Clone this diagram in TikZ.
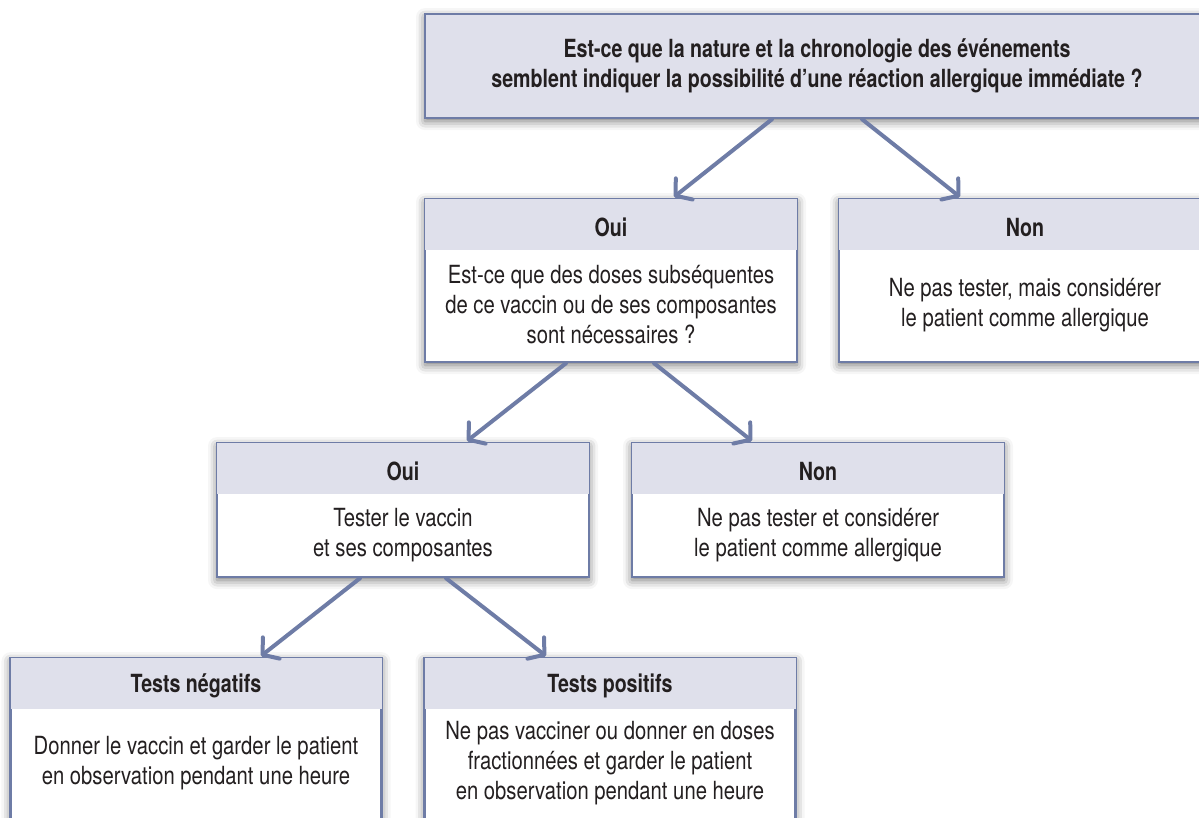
\documentclass[tikz,border=0pt]{standalone}
\usepackage{fontspec}
\setmainfont{TeX Gyre Heros}[FakeStretch=0.81,BoldFeatures={FakeStretch=0.785}]
\usetikzlibrary{arrows.meta,shadows.blur}
\definecolor{bordc}{HTML}{6E7CA6}
\definecolor{headc}{HTML}{DFE0EB}
\definecolor{txtc}{HTML}{231F20}
\tikzset{
  x=1pt,y=1pt,
  box/.style={draw=bordc,line width=2.2pt,fill=white,minimum width=#1,minimum height=163pt,inner sep=0pt,anchor=north,
    blur shadow={shadow xshift=0pt,shadow yshift=-3pt,shadow blur radius=9pt,shadow opacity=55}},
  hd/.style={font=\fontsize{25}{30}\selectfont\bfseries,text=txtc,align=center},
  bd/.style={font=\fontsize{25}{30}\selectfont,text=txtc,align=center},
  conn/.style={draw=bordc,line width=4pt,line cap=round,-{Straight Barb[length=11pt,width=27pt,line cap=round,round]}},
}
\newcommand{\headband}[1]{%
  \fill[headc] ([xshift=1.1pt,yshift=-1.1pt]#1.north west) rectangle ([xshift=-1.1pt,yshift=-52pt]#1.north east);
}
\begin{document}
\begin{tikzpicture}
\useasboundingbox (0,0) rectangle (1199,-817);
\clip (0,0) rectangle (1199,-817);
% top box
\node[box=784pt,minimum height=104pt,fill=headc] (top) at (817,-13) {};
\node[hd] (toptxt) at (817,-66) {Est-ce que la nature et la chronologie des événements\\semblent indiquer la possibilité d’une réaction allergique immédiate ?};
% level 2
\node[box=372pt] (oui1) at (611,-198) {};
\headband{oui1}
\node[hd] (oui1h) at (611,-227) {Oui};
\node[bd] (oui1b) at (611,-305) {Est-ce que des doses subséquentes\\de ce vaccin ou de ses composantes\\sont nécessaires ?};
\node[box=372pt] (non1) at (1025,-198) {};
\headband{non1}
\node[hd] (non1h) at (1025,-227) {Non};
\node[bd] (non1b) at (1025,-305) {Ne pas tester, mais considérer\\le patient comme allergique};
% level 3
\node[box=372pt,minimum height=134pt] (oui2) at (403,-442) {};
\headband{oui2}
\node[hd] (oui2h) at (403,-471) {Oui};
\node[bd] (oui2b) at (403,-535) {Tester le vaccin\\et ses composantes};
\node[box=372pt,minimum height=134pt] (non2) at (818,-442) {};
\headband{non2}
\node[hd] (non2h) at (818,-471) {Non};
\node[bd] (non2b) at (818,-535) {Ne pas tester et considérer\\le patient comme allergique};
% level 4
\node[box=371pt] (neg) at (196,-657) {};
\headband{neg}
\node[hd] (negh) at (196,-686) {Tests négatifs};
\node[bd] (negb) at (196,-763) {Donner le vaccin et garder le patient\\en observation pendant une heure};
\node[box=371pt] (pos) at (610,-657) {};
\headband{pos}
\node[hd] (posh) at (610,-686) {Tests positifs};
\node[bd] (posb) at (610,-763) {Ne pas vacciner ou donner en doses\\fractionnées et garder le patient\\en observation pendant une heure};
% connectors
\draw[conn] ([xshift=-45pt]top.south) -- ([xshift=63pt,yshift=1pt]oui1.north);
\draw[conn] ([xshift=45pt]top.south) -- ([xshift=-65pt,yshift=1pt]non1.north);
\draw[conn] ([xshift=-45pt]oui1.south) -- ([xshift=64pt,yshift=1pt]oui2.north);
\draw[conn] ([xshift=43pt]oui1.south) -- ([xshift=-66pt,yshift=1pt]non2.north);
\draw[conn] ([xshift=-43pt]oui2.south) -- ([xshift=65pt,yshift=1pt]neg.north);
\draw[conn] ([xshift=43pt]oui2.south) -- ([xshift=-64pt,yshift=1pt]pos.north);
\end{tikzpicture}
\end{document}
